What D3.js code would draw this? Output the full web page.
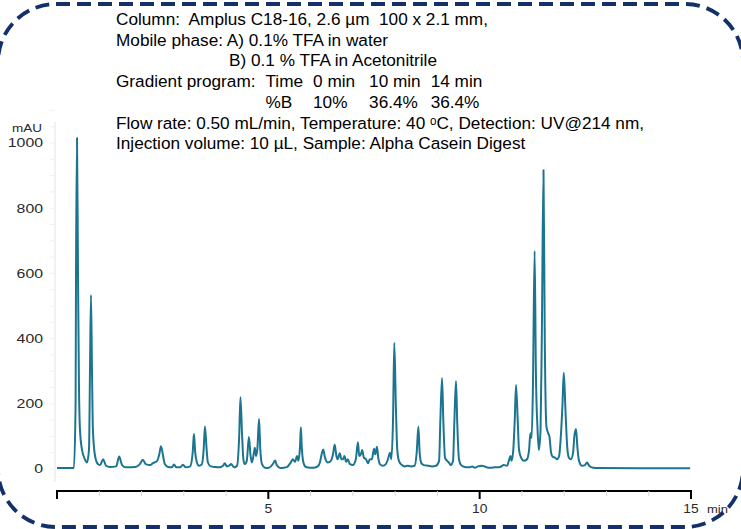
<!DOCTYPE html>
<html><head><meta charset="utf-8">
<script src="https://cdn.jsdelivr.net/npm/d3@7"></script>
<style>html,body{margin:0;padding:0;background:#fff}svg{display:block}</style>
</head><body>
<svg id="c" width="741" height="529"></svg>
<script>
// ---- data ----
const retentionTime = [
 0.00,0.40,0.44,0.45,0.473,0.497,0.52,0.544,0.59,0.66,0.71,0.757,0.78,0.804,0.828,0.85,0.90,0.97,
 1.02,1.09,1.16,1.25,1.40,1.47,1.54,1.63,1.85,1.96,2.03,2.10,2.20,2.27,2.37,2.42,2.46,2.51,2.55,
 2.63,2.72,2.77,2.82,2.91,2.98,3.05,3.15,3.21,3.24,3.27,3.31,3.36,3.43,3.47,3.50,3.54,3.57,3.64,
 3.74,3.83,3.93,3.97,4.02,4.07,4.12,4.19,4.26,4.31,4.34,4.38,4.41,4.44,4.49,4.54,4.58,4.61,4.66,
 4.68,4.71,4.74,4.78,4.81,4.85,4.92,4.99,5.06,5.13,5.16,5.20,5.28,5.37,5.44,5.54,5.58,5.63,5.68,
 5.71,5.75,5.77,5.79,5.83,5.89,5.99,6.08,6.17,6.22,6.27,6.30,6.34,6.41,6.48,6.53,6.57,6.61,6.64,
 6.69,6.73,6.77,6.80,6.84,6.88,6.93,7.00,7.07,7.12,7.15,7.19,7.22,7.26,7.31,7.36,7.40,7.45,7.50,
 7.53,7.57,7.60,7.64,7.71,7.78,7.83,7.88,7.91,7.95,7.98,8.02,8.05,8.09,8.16,8.23,8.30,8.37,8.46,
 8.51,8.55,8.58,8.62,8.68,8.78,8.87,8.97,9.04,9.07,9.11,9.14,9.18,9.23,9.27,9.32,9.37,9.40,9.44,
 9.47,9.51,9.56,9.65,9.75,9.82,9.89,9.96,10.05,10.15,10.24,10.36,10.48,10.57,10.65,10.70,10.73,
 10.75,10.79,10.83,10.86,10.90,10.93,10.98,11.05,11.12,11.17,11.20,11.23,11.26,11.30,11.33,11.37,
 11.40,11.44,11.47,11.51,11.54,11.58,11.62,11.65,11.69,11.73,11.78,11.83,11.88,11.92,11.96,11.99,
 12.03,12.07,12.11,12.16,12.21,12.24,12.28,12.31,12.35,12.42,12.49,12.54,12.59,12.68,12.85,13.79,14.98
];
const absorbance = [
 3,3,200,600,1015,600,250,120,60,30,20,60,300,534,300,120,40,15,
 12,30,10,6,8,38,12,5,6,15,28,15,12,18,25,45,70,40,15,
 6,5,14,5,5,13,5,8,50,108,50,20,10,15,60,130,60,20,8,
 6,5,10,18,8,10,15,5,10,100,220,100,30,15,25,98,40,20,50,
 65,40,60,153,60,15,4,3,8,20,26,12,3,4,6,22,30,22,40,
 25,70,128,70,20,6,4,4,8,20,50,60,35,20,25,45,75,40,30,
 48,30,30,40,22,30,15,12,30,82,40,45,58,35,30,18,30,30,62,
 45,68,35,15,10,15,30,50,30,150,387,180,60,25,12,8,10,8,10,
 50,130,50,18,12,10,8,10,25,150,279,150,35,25,20,12,25,140,270,
 140,30,12,6,5,8,4,8,10,6,4,5,6,12,10,30,40,
 25,50,150,258,150,60,35,25,30,60,110,95,250,669,300,120,
 58,120,400,917,400,130,110,100,50,37,35,30,40,100,200,295,
 180,70,35,30,50,100,123,70,25,10,12,20,10,4,3,2,2
];
const xTicksMajor = [0, 5, 10, 15];
const xTickLabels = ["", "5", "10", "15"];
const xTicksMinor = [1,2,3,4,6,7,8,9,11,12,13,14];
const yTicks = [0, 200, 400, 600, 800, 1000];
const infoLines = [
 "Column:  Amplus C18-16, 2.6 \u00b5m  100 x 2.1 mm,",
 "Mobile phase: A) 0.1% TFA in water",
 "B) 0.1 % TFA in Acetonitrile",
 "Gradient program:  ",
 "",
 "Flow rate: 0.50 mL/min, Temperature: 40 \u1d52C, Detection: UV@214 nm,",
 "Injection volume: 10 \u00b5L, Sample: Alpha Casein Digest"
];
const gradientTime = ["Time", "0 min", "10 min", "14 min"];
const gradientB = ["%B", "10%", "36.4%", "36.4%"];

// ---- drawing ----
const svg = d3.select("#c");
const font = "'Liberation Sans', Arial, sans-serif";
const fs = 17.2, lineH = 20.7, textX = 116, textY = 19;

// dashed rounded frame (partly outside the page, as in the original)
svg.append("rect").attr("x", -2).attr("y", 4).attr("width", 745).attr("height", 523)
  .attr("rx", 58).attr("ry", 58).attr("fill", "none")
  .attr("stroke", "#14306a").attr("stroke-width", 3.8).attr("stroke-dasharray", "14,7");

const x = d3.scaleLinear().domain([0, 15]).range([57, 691]);
const y = d3.scaleLinear().domain([0, 1000]).range([469, 143]);

// faint y axis line
svg.append("line").attr("x1", 55).attr("x2", 55).attr("y1", 122).attr("y2", 482)
  .attr("stroke", "#ececec").attr("stroke-width", 1.5);
const yMinor = d3.range(0, 1101, 50);
svg.selectAll(".ym").data(yMinor).enter().append("line")
  .attr("x1", 50).attr("x2", 55).attr("y1", d => y(d)).attr("y2", d => y(d))
  .attr("stroke", "#f0f0f0").attr("stroke-width", 1);

// y labels (wide axis font)
svg.selectAll(".yl").data(yTicks).enter().append("text")
  .attr("transform", d => `translate(43,${y(d)}) scale(1.32,1)`).attr("dy", "0.36em")
  .attr("text-anchor", "end").attr("font-family", font).attr("font-size", 12)
  .attr("fill", "#2a2a2a").text(d => d);
svg.append("text").attr("transform", "translate(42,128) scale(1.35,1)").attr("dy", "0.35em")
  .attr("text-anchor", "end").attr("font-family", font).attr("font-size", 10)
  .attr("fill", "#2a2a2a").text("mAU");

// x axis
const axisY = 491;
svg.append("line").attr("x1", x(0)).attr("x2", x(15)).attr("y1", axisY).attr("y2", axisY)
  .attr("stroke", "#000").attr("stroke-width", 2);
svg.selectAll(".xm").data(xTicksMinor).enter().append("line")
  .attr("x1", d => x(d)).attr("x2", d => x(d)).attr("y1", axisY).attr("y2", axisY + 5)
  .attr("stroke", "#d8d8d8").attr("stroke-width", 1);
svg.selectAll(".xM").data(xTicksMajor).enter().append("line")
  .attr("x1", d => x(d)).attr("x2", d => x(d)).attr("y1", axisY - 1).attr("y2", axisY + 8)
  .attr("stroke", "#000").attr("stroke-width", 2);
svg.selectAll(".xl").data(xTicksMajor).enter().append("text")
  .attr("transform", d => `translate(${x(d)},509) scale(1.15,1)`).attr("dy", "0.36em")
  .attr("text-anchor", "middle").attr("font-family", font).attr("font-size", 12)
  .attr("fill", "#2a2a2a").text((d, i) => xTickLabels[i]);
svg.append("text").attr("transform", "translate(707,509) scale(1.3,1)").attr("dy", "0.35em")
  .attr("font-family", font).attr("font-size", 10).attr("fill", "#2a2a2a").text("min");

// trace
const pts = retentionTime.map((t, i) => [t, absorbance[i]]);
const line = d3.line().x(d => x(d[0])).y(d => y(d[1])).curve(d3.curveMonotoneX);
svg.append("path").datum(pts).attr("d", line).attr("fill", "none")
  .attr("stroke", "#1c7590").attr("stroke-width", 2).attr("stroke-linejoin", "round");

// info text
const info = svg.append("g").attr("font-family", font).attr("font-size", fs).attr("fill", "#000");
const indent = [0, 0, 113, 0, 0, 0, 0];
info.selectAll(".info").data(infoLines).enter().append("text")
  .attr("x", (d, i) => textX + indent[i]).attr("y", (d, i) => textY + i * lineH).attr("dy", "0.35em")
  .attr("xml:space", "preserve").style("white-space", "pre").text(d => d);

// gradient table columns
const gradLabel = info.append("text").attr("x", textX).attr("y", -100).text("Gradient program:");
const colStart = textX + gradLabel.node().getComputedTextLength() + 10;
gradLabel.remove();
const gaps = [10, 14, 10];
const colX = [colStart];
const tmp = info.append("text").attr("y", -100);
for (let i = 1; i < gradientTime.length; i++) {
  tmp.text(gradientTime[i - 1]);
  colX.push(colX[i - 1] + tmp.node().getComputedTextLength() + gaps[i - 1]);
}
tmp.remove();
info.selectAll(".gt").data(gradientTime).enter().append("text")
  .attr("x", (d, i) => colX[i]).attr("y", textY + 3 * lineH).attr("dy", "0.35em").text(d => d);
info.selectAll(".gb").data(gradientB).enter().append("text")
  .attr("x", (d, i) => colX[i]).attr("y", textY + 4 * lineH).attr("dy", "0.35em").text(d => d);
</script>
</body></html>
